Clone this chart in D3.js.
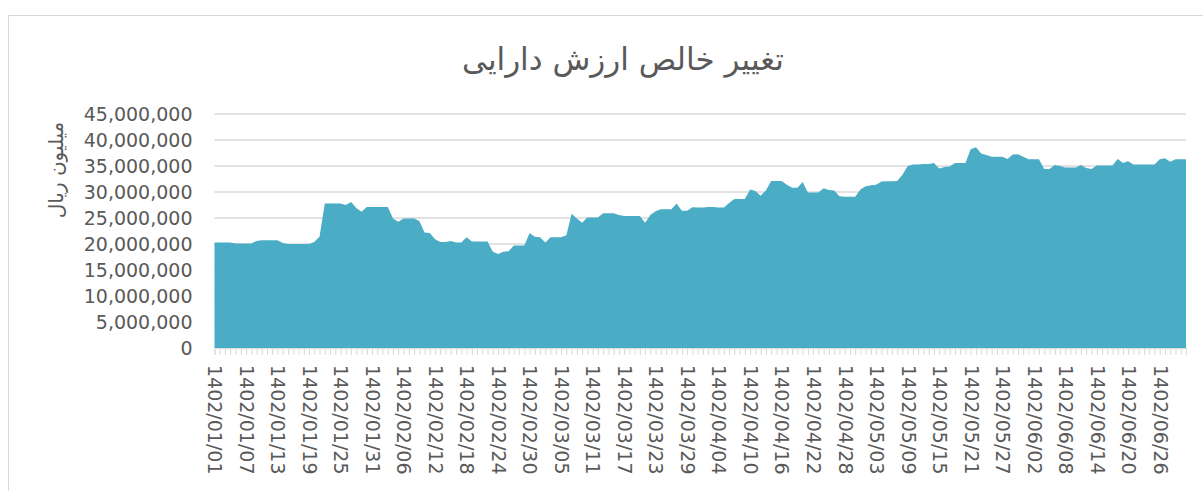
<!DOCTYPE html>
<html>
<head>
<meta charset="utf-8">
<script src="https://cdn.jsdelivr.net/npm/d3@7"></script>
<style>
    body { margin: 0; background: #fff; }
    #chart { width: 1203px; height: 491px; }
    text { font-family: "DejaVu Sans", sans-serif; fill: #595959; }
</style>
</head>
<body>
<div id="chart"></div>
<script>
// Chart title and axis title
const chartTitle = 'تغییر خالص ارزش دارایی';
const yTitle = 'میلیون ریال';

// Persian calendar months 1..6 of 1402 (31 days each)
const year = '1402';
const months = ['01', '02', '03', '04', '05', '06'];
const daysPerMonth = 31;

// Labels shown under the axis (every 6th day)
const tickLabels = [
    '1402/01/01', '1402/01/07', '1402/01/13', '1402/01/19', '1402/01/25', '1402/01/31',
    '1402/02/06', '1402/02/12', '1402/02/18', '1402/02/24', '1402/02/30', '1402/03/05',
    '1402/03/11', '1402/03/17', '1402/03/23', '1402/03/29', '1402/04/04', '1402/04/10',
    '1402/04/16', '1402/04/22', '1402/04/28', '1402/05/03', '1402/05/09', '1402/05/15',
    '1402/05/21', '1402/05/27', '1402/06/02', '1402/06/08', '1402/06/14', '1402/06/20',
    '1402/06/26'
];

// Net asset value change (in millions of million rials)
const values = [
    20.3, 20.3, 20.3, 20.3, 20.1, 20.1, 20.1, 20.1, 20.6, 20.7,
    20.7, 20.7, 20.7, 20.2, 20.0, 20.0, 20.0, 20.0, 20.0, 20.4,
    21.4, 27.8, 27.8, 27.8, 27.8, 27.5, 28.1, 26.9, 26.2, 27.1,
    27.1, 27.1, 27.1, 27.1, 24.9, 24.3, 24.9, 24.9, 24.9, 24.4,
    22.2, 22.1, 20.9, 20.4, 20.4, 20.6, 20.3, 20.3, 21.3, 20.5,
    20.5, 20.5, 20.5, 18.5, 18.1, 18.5, 18.6, 19.7, 19.7, 19.7,
    22.1, 21.4, 21.3, 20.3, 21.3, 21.3, 21.3, 21.7, 25.8, 24.9,
    24.1, 25.1, 25.1, 25.1, 25.9, 25.9, 25.9, 25.6, 25.4, 25.4,
    25.4, 25.4, 24.1, 25.6, 26.3, 26.7, 26.7, 26.7, 27.8, 26.4,
    26.4, 27.05, 27.0, 27.0, 27.1, 27.1, 27.0, 27.0, 27.9, 28.65,
    28.65, 28.65, 30.5, 30.2, 29.3, 30.3, 32.1, 32.1, 32.1, 31.4,
    30.8, 30.8, 31.9, 29.9, 29.9, 29.9, 30.7, 30.4, 30.3, 29.2,
    29.1, 29.1, 29.1, 30.5, 31.1, 31.3, 31.4, 32.0, 32.05, 32.05,
    32.1, 33.3, 35.0, 35.3, 35.3, 35.4, 35.4, 35.6, 34.5, 34.8,
    34.9, 35.6, 35.6, 35.6, 38.2, 38.6, 37.4, 37.1, 36.8, 36.8,
    36.8, 36.35, 37.2, 37.25, 36.8, 36.3, 36.3, 36.3, 34.4, 34.4,
    35.2, 35.0, 34.7, 34.7, 34.7, 35.2, 34.6, 34.4, 35.1, 35.1,
    35.1, 35.1, 36.35, 35.6, 35.9, 35.3, 35.3, 35.3, 35.3, 35.3,
    36.3, 36.5, 35.8, 36.3, 36.3, 36.3
].map(v => v * 1e6);

// y axis ticks
const yTicks = [0, 5e6, 10e6, 15e6, 20e6, 25e6, 30e6, 35e6, 40e6, 45e6];

// Build category list
const categories = [];
months.forEach(m => {
    for (let d = 1; d <= daysPerMonth; d++) {
        categories.push(`${year}/${m}/${String(d).padStart(2, '0')}`);
    }
});
const data = values.map((v, i) => ({ date: categories[i], value: v }));

const width = 1203, height = 491;
const plot = { left: 214.5, right: 1186, top: 114, bottom: 348 };

const svg = d3.select('#chart')
    .append('svg')
    .attr('width', width)
    .attr('height', height);

// Chart border
svg.append('rect')
    .attr('x', 8.5)
    .attr('y', 15.5)
    .attr('width', 1200)
    .attr('height', 480)
    .attr('fill', 'none')
    .attr('stroke', '#d9d9d9')
    .attr('stroke-width', 1);

const xScale = d3.scalePoint()
    .domain(data.map(d => d.date))
    .range([plot.left, plot.right]);

const yScale = d3.scaleLinear()
    .domain([0, 45e6])
    .range([plot.bottom, plot.top]);

// Grid lines
svg.append('g')
    .attr('class', 'grid-lines')
    .selectAll('line')
    .data(yTicks.filter(t => t > 0))
    .enter()
    .append('line')
    .attr('x1', plot.left)
    .attr('x2', plot.right)
    .attr('y1', d => yScale(d))
    .attr('y2', d => yScale(d))
    .attr('stroke', '#d9d9d9')
    .attr('stroke-width', 1.5);

// Area
const area = d3.area()
    .x(d => xScale(d.date))
    .y0(yScale(0))
    .y1(d => yScale(d.value));

svg.append('path')
    .datum(data)
    .attr('fill', '#4bacc6')
    .attr('d', area);

// X axis: a tick for every day, labels for every 6th day
const xAxis = svg.append('g')
    .attr('class', 'x-axis')
    .attr('transform', `translate(0,${plot.bottom})`)
    .call(d3.axisBottom(xScale)
        .tickSize(7)
        .tickFormat(d => tickLabels.includes(d) ? d : ''));

xAxis.select('.domain').attr('stroke', '#d9d9d9');
xAxis.selectAll('.tick line').attr('stroke', '#d9d9d9');
xAxis.selectAll('.tick text')
    .attr('transform', 'rotate(90)')
    .attr('x', 17)
    .attr('y', 0)
    .attr('dy', '0.35em')
    .attr('text-anchor', 'start')
    .style('font-size', '19px')
    .style('font-family', '"DejaVu Sans", sans-serif')
    .attr('fill', '#595959');

// Y axis labels
const yAxis = svg.append('g')
    .attr('class', 'y-axis')
    .attr('transform', `translate(${plot.left},0)`)
    .call(d3.axisLeft(yScale)
        .tickValues(yTicks)
        .tickSize(0)
        .tickPadding(22)
        .tickFormat(d3.format(',')));

yAxis.select('.domain').remove();
yAxis.selectAll('.tick text')
    .style('font-size', '19px')
    .style('font-family', '"DejaVu Sans", sans-serif')
    .attr('fill', '#595959');

// Y axis title
svg.append('text')
    .attr('transform', 'rotate(-90)')
    .attr('x', -170)
    .attr('y', 63)
    .attr('text-anchor', 'middle')
    .style('font-size', '20px')
    .text(yTitle);

// Title
svg.append('text')
    .attr('x', 623)
    .attr('y', 70)
    .attr('text-anchor', 'middle')
    .style('font-size', '31px')
    .text(chartTitle);
</script>
</body>
</html>
